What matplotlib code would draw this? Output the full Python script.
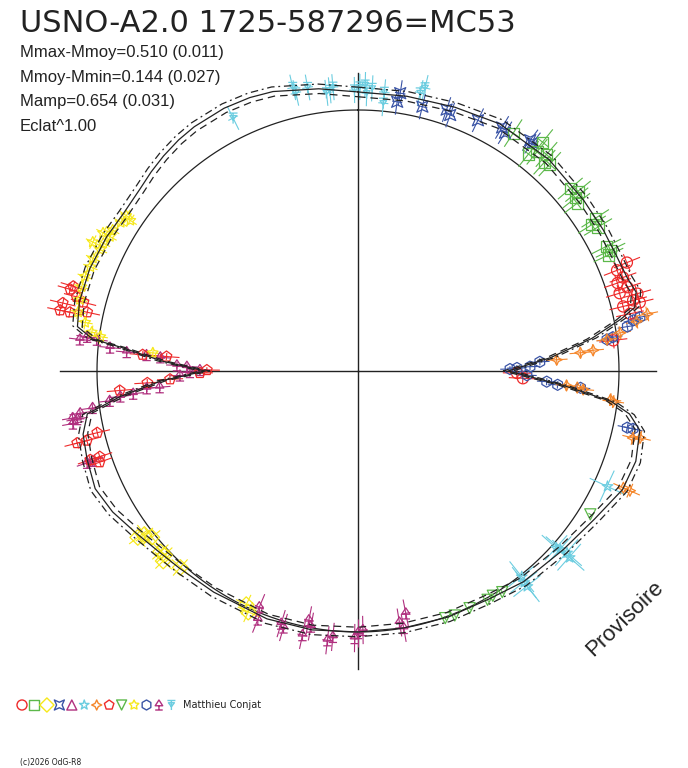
import numpy as np
import matplotlib
matplotlib.use("Agg")
import matplotlib.pyplot as plt
from matplotlib.path import Path

plt.rcParams['font.family'] = ['Liberation Sans', 'DejaVu Sans']

TITLE = "USNO-A2.0 1725-587296=MC53"
STATS = ["Mmax-Mmoy=0.510 (0.011)", "Mmoy-Mmin=0.144 (0.027)",
         "Mamp=0.654 (0.031)", "Eclat^1.00"]
OBSERVER = "Matthieu Conjat"
COPYRIGHT = "(c)2026 OdG-R8"
STAMP = "Provisoire"

# magnitudes between the mean circle and the centre of the diagram
MAG_SCALE = 1.2

# fitted light curve (phase, magnitude minus mean, + = fainter)
model_phase = [0.000, 0.028, 0.056, 0.083, 0.117, 0.147, 0.167, 0.183, 0.197, 0.206,
               0.214, 0.219, 0.228, 0.239, 0.250, 0.261, 0.269, 0.275, 0.283, 0.300,
               0.317, 0.339, 0.364, 0.394, 0.417, 0.444, 0.472, 0.500, 0.528, 0.556,
               0.592, 0.617, 0.633, 0.650, 0.667, 0.683, 0.700, 0.714, 0.725, 0.733,
               0.742, 0.750, 0.758, 0.766, 0.769, 0.775, 0.789, 0.808, 0.828, 0.844,
               0.861, 0.872, 0.883, 0.895, 0.906, 0.925, 0.940, 0.953, 0.978, 1.000]
model_dm = [-0.083, -0.083, -0.092, -0.110, -0.110, -0.101, -0.101, -0.101, -0.110, -0.129,
            -0.106, -0.032, 0.115, 0.313, 0.510, 0.257, 0.028, -0.064, -0.124, -0.143,
            -0.133, -0.083, -0.051, -0.032, -0.009, -0.005, 0.000, 0.000, -0.009, -0.014,
            -0.014, -0.023, -0.037, -0.064, -0.101, -0.124, -0.110, -0.097, -0.060, 0.101,
            0.294, 0.497, 0.300, 0.101, -0.028, -0.106, -0.120, -0.120, -0.110, -0.099,
            -0.106, -0.120, -0.133, -0.145, -0.152, -0.156, -0.152, -0.143, -0.110, -0.083]
model_spread = 0.022

# observations, one pair of lists per observing run
cyan_t_phase = [0.964, 0.965, 0.972, 0.982, 0.984, 0.986, 0.998, 0.001, 0.004, 0.005,
                0.008, 0.015, 0.015, 0.035, 0.037, 0.927]
cyan_t_dm = [-0.138, -0.110, -0.124, -0.087, -0.097, -0.110, -0.092, -0.106, -0.115, -0.078,
             -0.101, -0.087, -0.037, -0.110, -0.138, -0.097]

blue_x_phase = [0.024, 0.023, 0.038, 0.055, 0.052, 0.071, 0.088, 0.085, 0.102, 0.104]
blue_x_dm = [-0.092, -0.051, -0.051, -0.051, -0.069, -0.078, -0.087, -0.101, -0.124, -0.120]

green_sq_phase = [0.092, 0.108, 0.106, 0.109, 0.114, 0.116, 0.119, 0.137, 0.141, 0.143,
                  0.146, 0.159, 0.161, 0.164, 0.176, 0.179, 0.181]
green_sq_dm = [-0.106, -0.152, -0.069, -0.101, -0.120, -0.087, -0.097, -0.087, -0.106, -0.078,
               -0.069, -0.097, -0.069, -0.087, -0.078, -0.087, -0.069]

red_o_phase = [0.196, 0.198, 0.202, 0.204, 0.210, 0.212, 0.212, 0.217, 0.191, 0.189,
               0.231, 0.257, 0.252, 0.207]
red_o_dm = [-0.092, -0.060, -0.097, -0.055, -0.106, -0.133, -0.055, -0.078, -0.078, -0.133,
            0.018, 0.441, 0.469, -0.133]

blue_h_phase = [0.221, 0.220, 0.224, 0.229, 0.230, 0.242, 0.246, 0.247, 0.248, 0.254,
                0.259, 0.261, 0.262, 0.283, 0.283]
blue_h_dm = [-0.087, -0.120, -0.055, 0.018, 0.046, 0.363, 0.409, 0.469, 0.501, 0.423,
             0.331, 0.280, 0.174, -0.092, -0.065]

orange_phase = [0.219, 0.222, 0.227, 0.230, 0.236, 0.237, 0.241, 0.261, 0.262, 0.263,
                0.268, 0.269, 0.288, 0.287, 0.316, 0.316]
orange_dm = [-0.156, -0.101, -0.018, 0.046, 0.115, 0.174, 0.285, 0.239, 0.189, 0.161,
             0.032, 0.018, -0.101, -0.133, -0.133, -0.166]

cyan_s_phase = [0.319, 0.365, 0.364, 0.365, 0.366, 0.393, 0.394, 0.394]
cyan_s_dm = [-0.064, -0.041, -0.074, -0.097, -0.023, -0.009, -0.037, -0.060]

green_v_phase = [0.338, 0.408, 0.414, 0.418, 0.430, 0.440, 0.446]
green_v_dm = [-0.055, -0.014, -0.005, -0.009, -0.005, -0.009, -0.005]

mag_bot_phase = [0.469, 0.474, 0.472, 0.500, 0.502, 0.497, 0.515, 0.518, 0.529, 0.533,
                 0.531, 0.547, 0.545, 0.563, 0.561]
mag_bot_dm = [0.064, 0.028, 0.000, -0.005, -0.028, 0.009, -0.028, -0.046, 0.005, -0.041,
              0.032, -0.014, -0.028, 0.023, -0.032]

mag_left_phase = [0.698, 0.698, 0.723, 0.721, 0.728, 0.726, 0.724, 0.731, 0.733, 0.734,
                  0.737, 0.737, 0.746, 0.749, 0.751, 0.754, 0.755, 0.761, 0.762, 0.763,
                  0.765, 0.769, 0.770, 0.768]
mag_left_dm = [-0.115, -0.087, -0.110, -0.133, -0.032, -0.092, -0.129, 0.050, 0.101, 0.161,
               0.225, 0.285, 0.381, 0.427, 0.473, 0.413, 0.367, 0.289, 0.225, 0.133,
               0.055, -0.009, -0.055, -0.087]

yellow_d_phase = [0.647, 0.646, 0.642, 0.632, 0.629, 0.627, 0.617, 0.571, 0.568]
yellow_d_dm = [-0.069, -0.037, -0.018, -0.032, -0.028, -0.051, -0.018, 0.009, -0.018]

red_p_phase = [0.710, 0.713, 0.710, 0.696, 0.699, 0.699, 0.748, 0.751, 0.743, 0.741,
               0.737, 0.762, 0.762, 0.794, 0.786, 0.782, 0.782, 0.796, 0.789, 0.791, 0.784]
red_p_dm = [-0.133, -0.032, -0.087, -0.060, -0.097, -0.051, 0.473, 0.505, 0.335, 0.230,
            0.101, 0.207, 0.317, -0.175, -0.193, -0.198, -0.152, -0.166, -0.101, -0.138, -0.074]

yellow_s_phase = [0.844, 0.839, 0.833, 0.829, 0.820, 0.814, 0.809, 0.803, 0.797, 0.790,
                  0.783, 0.778, 0.773, 0.843, 0.829, 0.822, 0.824, 0.764, 0.771]
yellow_s_dm = [-0.083, -0.087, -0.101, -0.097, -0.110, -0.124, -0.120, -0.129, -0.129, -0.120,
               -0.115, -0.074, -0.037, -0.055, -0.133, -0.156, -0.110, 0.253, 0.005]

RED = '#ee2a2a'
GREEN = '#5cb84a'
YELLOW = '#f6e81a'
BLUE = '#3a54a6'
MAGENTA = '#b0307f'
CYAN = '#6ccde0'
ORANGE = '#f5862a'
INK = '#222222'


def mk(parts):
    # parts: list of (vertices, closed)
    verts, codes = [], []
    for pts, closed in parts:
        verts += pts
        codes += [Path.MOVETO] + [Path.LINETO] * (len(pts) - 1)
        if closed:
            verts.append(pts[0])
            codes.append(Path.CLOSEPOLY)
    return Path(verts, codes)


M_XSQ = mk([([(-1, -1), (0, -0.55), (1, -1), (0.55, 0), (1, 1), (0, 0.55), (-1, 1), (-0.55, 0)], True)])
M_STAR4 = mk([([(0, 1), (0.32, 0.32), (1, 0), (0.32, -0.32), (0, -1), (-0.32, -0.32), (-1, 0), (-0.32, 0.32)], True)])
M_TEE = mk([([(-0.75, -0.15), (0.75, -0.15), (0, 1)], True),
            ([(0, -0.15), (0, -1)], False), ([(-0.75, -1), (0.75, -1)], False)])
M_TEE_DN = mk([([(-0.8, 0.9), (0.8, 0.9)], False), ([(-0.6, 0.45), (0.6, 0.45), (0, -0.35)], True),
               ([(0, 0.9), (0, -1)], False)])
M_STAR5 = (5, 1, 0)

# legend order of the observers' symbols
legend_markers = [('o', RED), ('s', GREEN), ('D', YELLOW), (M_XSQ, BLUE), ('^', MAGENTA),
                  ('*', CYAN), (M_STAR4, ORANGE), ('p', RED), ('v', GREEN), (M_STAR5, YELLOW),
                  ('h', BLUE), (M_TEE, MAGENTA), (M_TEE_DN, CYAN)]

# (phase, dm, marker, colour, error in mag, error in phase)
series = [
    (cyan_t_phase, cyan_t_dm, M_TEE_DN, CYAN, 0.060, 0.003),
    (blue_x_phase, blue_x_dm, M_XSQ, BLUE, 0.060, 0.003),
    (green_sq_phase, green_sq_dm, 's', GREEN, 0.075, 0.004),
    (red_o_phase, red_o_dm, 'o', RED, 0.065, 0.005),
    (blue_h_phase, blue_h_dm, 'h', BLUE, 0.045, 0.003),
    (orange_phase, orange_dm, M_STAR4, ORANGE, 0.050, 0.004),
    (cyan_s_phase, cyan_s_dm, '*', CYAN, 0.090, 0.010),
    (green_v_phase, green_v_dm, 'v', GREEN, 0.010, 0.0),
    (mag_bot_phase, mag_bot_dm, M_TEE, MAGENTA, 0.065, 0.003),
    (mag_left_phase, mag_left_dm, M_TEE, MAGENTA, 0.050, 0.003),
    (yellow_d_phase, yellow_d_dm, 'D', YELLOW, 0.050, 0.007),
    (red_p_phase, red_p_dm, 'p', RED, 0.060, 0.003),
    (yellow_s_phase, yellow_s_dm, M_STAR5, YELLOW, 0.035, 0.004),
]


def to_theta(p):
    return 2 * np.pi * np.asarray(p)


def to_r(dm):
    return 1 - np.asarray(dm) / MAG_SCALE


W, H = 688, 768
CX, CY, R0 = 358, 371, 261
RMAX = 1.3
side = 2 * RMAX * R0

fig = plt.figure(figsize=(W / 100, H / 100), dpi=100)
ax = fig.add_axes([(CX - side / 2) / W, (H - CY - side / 2) / H, side / W, side / H],
                  projection='polar')
ax.set_theta_zero_location('N')
ax.set_theta_direction(-1)
ax.set_ylim(0, RMAX)
ax.set_axis_off()

# cross hairs and mean-magnitude circle
for t in [0, np.pi / 2, np.pi, 3 * np.pi / 2]:
    ax.plot([t, t], [0, 1.14], color=INK, lw=1.0, zorder=1)
circ = np.linspace(0, 2 * np.pi, 721)
ax.plot(circ, np.ones_like(circ), color=INK, lw=0.9, zorder=1)

# observations with their error crosses
for ph, dm, marker, col, emag, eph in series:
    th, r = to_theta(ph), to_r(dm)
    ax.vlines(th, r - emag / MAG_SCALE, r + emag / MAG_SCALE, color=col, lw=0.8, zorder=2)
    if eph > 0:
        ax.hlines(r, th - 2 * np.pi * eph, th + 2 * np.pi * eph, color=col, lw=0.8, zorder=2)
    ax.scatter(th, r, marker=marker, s=64, facecolors='none', edgecolors=col,
               linewidths=0.9, zorder=3)

# fitted curve and its envelope
mth = to_theta(model_phase)
ax.plot(mth, to_r(np.array(model_dm) - model_spread), color=INK, lw=0.9,
        linestyle=(0, (6, 3, 1.5, 3)), zorder=4)
ax.plot(mth, to_r(model_dm), color=INK, lw=0.9, zorder=4)
ax.plot(mth, to_r(np.array(model_dm) + model_spread), color=INK, lw=0.9,
        linestyle=(0, (6, 4)), zorder=4)

# texts
fig.text(20 / W, 1 - 32 / H, TITLE, fontsize=22, color=INK, va='baseline', ha='left',
         family='DejaVu Sans')
for i, s in enumerate(STATS):
    fig.text(20 / W, 1 - (57 + 24.7 * i) / H, s, fontsize=12, color=INK,
             va='baseline', ha='left')
fig.text(625 / W, 1 - 619 / H, STAMP, fontsize=16, color=INK, rotation=44,
         ha='center', va='center', rotation_mode='anchor')

# observer legend row
lax = fig.add_axes([0, 0, 1, 1], zorder=5)
lax.set_xlim(0, W)
lax.set_ylim(H, 0)
lax.set_axis_off()
for i, (marker, col) in enumerate(legend_markers):
    lax.scatter(22 + 12.45 * i, 705, marker=marker, s=52, facecolors='none',
                edgecolors=col, linewidths=1.0)
lax.text(183, 705, OBSERVER, fontsize=7, color=INK, va='center', ha='left',
         family='DejaVu Sans')
lax.text(20, 762, COPYRIGHT, fontsize=5.5, color=INK, va='center', ha='left',
         family='DejaVu Sans')

fig.savefig('out.png', dpi=100)
